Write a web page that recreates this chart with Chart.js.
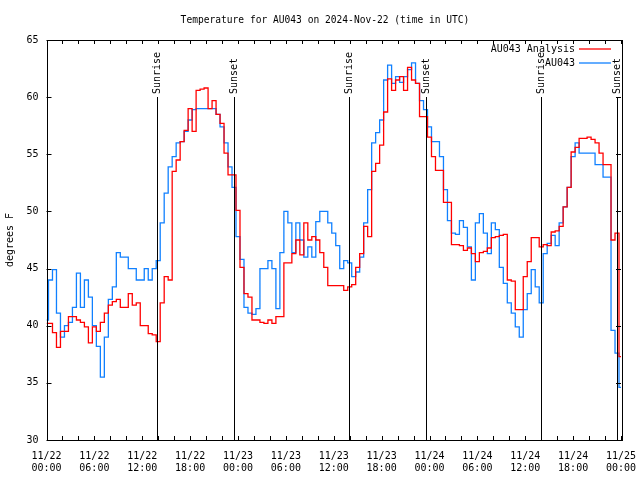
<!DOCTYPE html>
<html>
<head>
<meta charset="utf-8">
<script src="https://cdn.jsdelivr.net/npm/chart.js@4.4.1/dist/chart.umd.min.js"></script>
<style>
  body { margin: 0; background: #fff; }
  canvas { display: block; }
</style>
</head>
<body>
<canvas id="myChart" width="640" height="480"></canvas>
<script>
// hours since 11/22 00:00 UTC
let hours = [
  0, 0.5, 1, 1.5, 2, 2.5, 3, 3.5, 4, 4.5, 5, 5.5, 6, 6.5, 7, 7.5, 8, 8.5, 9, 9.5, 10, 10.5, 11, 11.5,
  12, 12.5, 13, 13.5, 14, 14.5, 15, 15.5, 16, 16.5, 17, 17.5, 18, 18.5, 19, 19.5, 20, 20.5, 21, 21.5, 22, 22.5, 23, 23.5,
  24, 24.5, 25, 25.5, 26, 26.5, 27, 27.5, 28, 28.5, 29, 29.5, 30, 30.5, 31, 31.5, 32, 32.5, 33, 33.5, 34, 34.5, 35, 35.5,
  36, 36.5, 37, 37.5, 38, 38.5, 39, 39.5, 40, 40.5, 41, 41.5, 42, 42.5, 43, 43.5, 44, 44.5, 45, 45.5, 46, 46.5, 47, 47.5,
  48, 48.5, 49, 49.5, 50, 50.5, 51, 51.5, 52, 52.5, 53, 53.5, 54, 54.5, 55, 55.5, 56, 56.5, 57, 57.5, 58, 58.5, 59, 59.5,
  60, 60.5, 61, 61.5, 62, 62.5, 63, 63.5, 64, 64.5, 65, 65.5, 66, 66.5, 67, 67.5, 68, 68.5, 69, 69.5, 70, 70.5, 71, 71.5,
  72
];

let analysis = [
  40.2, 40.2, 39.4, 38.1, 39.5, 39.5, 40.8, 40.8, 40.5, 40.3, 39.9, 38.5, 39.9, 39.5, 40.3, 41.1, 41.8, 42.1, 42.3, 41.6, 41.6, 42.8, 41.8, 42,
  40, 40, 39.3, 39.2, 38.6, 42, 44.3, 44, 53.5, 54.5, 56.1, 57.1, 59, 57, 60.6, 60.7, 60.8, 59, 59.7, 58.5, 57.7, 55.1, 53.2, 53.2,
  50.1, 45.1, 42.8, 42.5, 40.5, 40.5, 40.3, 40.2, 40.5, 40.2, 40.8, 40.8, 45.5, 45.5, 46.3, 47.5, 46.2, 49, 47.5, 47.8, 47.5, 46.4, 45.1, 43.5,
  43.5, 43.5, 43.5, 43.1, 43.4, 43.6, 45.1, 46.3, 48.7, 47.8, 53.5, 54.2, 55.8, 58.7, 61.6, 60.6, 61.5, 61.8, 60.6, 62.6, 61.5, 61.2, 58.3, 58.3,
  56.5, 54.8, 53.6, 53.6, 50.8, 50.8, 47.1, 47.1, 47, 46.6, 46.8, 46.3, 45.6, 46.4, 46.5, 46.8, 47.7, 47.8, 47.9, 48, 44, 43.9, 41.4, 41.4,
  44.3, 45.6, 47.7, 47.7, 46.9, 47.1, 47, 48.2, 48.3, 48.7, 50.4, 52.1, 55.2, 55.6, 56.4, 56.4, 56.5, 56.3, 56, 55.1, 54.1, 54.1, 47.5, 48.1,
  37.3
];

let observed = [
  40.5, 44, 44.9, 41.1, 39, 40, 40.3, 41.6, 44.6, 41.6, 44, 42.5, 40, 38.2, 35.5, 39, 42.3, 43.4, 46.4, 46, 46, 45, 45, 44,
  44, 45, 44, 45, 45.7, 49, 51.6, 53.9, 54.8, 56, 56.1, 57, 58, 58.9, 59, 59, 59, 59, 59, 58.5, 57.4, 56, 53.9, 52.1,
  47.8, 45.8, 41.6, 41.1, 41, 41.5, 45, 45, 45.7, 45, 41.5, 46.4, 50, 49, 46.4, 49, 47.5, 46, 46.9, 46, 49.1, 50, 50, 49,
  48.1, 47, 45, 45.7, 45.5, 44.3, 44.7, 46, 49, 51.9, 56, 56.9, 58, 61.5, 62.8, 61.2, 61.8, 61.3, 61.8, 62.4, 63, 61.2, 59.7, 58.9,
  57.4, 56.1, 56.1, 54.8, 51.9, 49.2, 48.1, 48, 49.2, 48.6, 46.9, 44, 49, 49.8, 48.1, 46.3, 49, 48.4, 45.1, 43.7, 42, 41.1, 39.9, 39,
  41.4, 42.8, 44.9, 43.4, 42, 46.3, 47.2, 47.9, 47, 49, 50.4, 52.1, 54.8, 56, 55.1, 55.1, 55.1, 55.1, 54.1, 54.1, 53, 53, 39.6, 37.6,
  34.6
];

let xTickLabels = [
  ['11/22', '00:00'], ['11/22', '06:00'], ['11/22', '12:00'], ['11/22', '18:00'],
  ['11/23', '00:00'], ['11/23', '06:00'], ['11/23', '12:00'], ['11/23', '18:00'],
  ['11/24', '00:00'], ['11/24', '06:00'], ['11/24', '12:00'], ['11/24', '18:00'],
  ['11/25', '00:00']
];

let sunTimes = [13.88, 23.53, 37.94, 47.59, 61.97, 71.53];
let sunLabels = ['Sunrise', 'Sunset', 'Sunrise', 'Sunset', 'Sunrise', 'Sunset'];

let chartTitle = 'Temperature for AU043 on 2024-Nov-22 (time in UTC)';

const FONT = "'DejaVu Sans Mono', monospace";

function pts(vals) {
  return hours.map((h, i) => ({ x: h, y: vals[i] }));
}

// title, frame, inward tick marks, sun lines and the legend box
const extras = {
  id: 'extras',
  afterDatasetsDraw(chart) {
    const { ctx, chartArea: a, scales } = chart;
    const x = scales.x, y = scales.y;
    ctx.save();
    ctx.strokeStyle = '#000';
    ctx.fillStyle = '#000';
    ctx.lineWidth = 1;

    // title
    ctx.font = '9.6px ' + FONT;
    ctx.textAlign = 'center';
    ctx.textBaseline = 'middle';
    ctx.fillText(chartTitle, 325, 20);

    // sunrise / sunset
    ctx.font = '10px ' + FONT;
    sunTimes.forEach((t, i) => {
      const px = Math.round(x.getPixelForValue(t)) + 0.5;
      ctx.beginPath();
      ctx.moveTo(px, a.top + 57);
      ctx.lineTo(px, a.bottom);
      ctx.stroke();
      ctx.save();
      ctx.translate(px, a.top + 54);
      ctx.rotate(-Math.PI / 2);
      ctx.textAlign = 'left';
      ctx.textBaseline = 'middle';
      ctx.fillText(sunLabels[i], 0, 0);
      ctx.restore();
    });

    // frame
    ctx.strokeRect(Math.round(a.left) + 0.5, Math.round(a.top) + 0.5,
      Math.round(a.right - a.left), Math.round(a.bottom - a.top));

    // ticks
    ctx.beginPath();
    for (let h = 0; h <= 72; h += 2) {
      const px = Math.round(x.getPixelForValue(h)) + 0.5;
      ctx.moveTo(px, a.top); ctx.lineTo(px, a.top + 4);
      ctx.moveTo(px, a.bottom); ctx.lineTo(px, a.bottom - 4);
    }
    for (let v = 30; v <= 65; v += 5) {
      const py = Math.round(y.getPixelForValue(v)) + 0.5;
      ctx.moveTo(a.left, py); ctx.lineTo(a.left + 5, py);
      ctx.moveTo(a.right, py); ctx.lineTo(a.right - 5, py);
    }
    ctx.stroke();

    // legend
    ctx.textAlign = 'right';
    ctx.textBaseline = 'middle';
    chart.data.datasets.forEach((ds, i) => {
      const ly = a.top + 9 + i * 14;
      ctx.fillStyle = '#000';
      ctx.fillText(ds.label, a.right - 46, ly);
      ctx.strokeStyle = ds.borderColor;
      ctx.lineWidth = 1.3;
      ctx.beginPath();
      ctx.moveTo(a.right - 42, ly);
      ctx.lineTo(a.right - 10, ly);
      ctx.stroke();
    });
    ctx.restore();
  }
};

let ctx = document.getElementById('myChart');
let myChart = new Chart(ctx, {
  type: 'line',
  data: {
    datasets: [{
      label: 'AU043 Analysis',
      data: pts(analysis),
      borderColor: 'rgb(255, 0, 0)',
      borderWidth: 1.3,
      pointRadius: 0,
      stepped: 'middle',
      fill: false
    }, {
      label: 'AU043',
      data: pts(observed),
      borderColor: 'rgb(16, 128, 255)',
      borderWidth: 1.3,
      pointRadius: 0,
      stepped: 'middle',
      fill: false
    }]
  },
  options: {
    responsive: false,
    animation: false,
    devicePixelRatio: 1,
    layout: { padding: { left: 0, right: 19, top: 40, bottom: 0 } },
    plugins: {
      legend: { display: false },
      tooltip: { enabled: false },
      title: { display: false }
    },
    scales: {
      x: {
        type: 'linear',
        min: 0,
        max: 72,
        grid: { display: false, drawTicks: false },
        border: { display: false },
        ticks: {
          stepSize: 6,
          padding: 10,
          color: '#000',
          maxRotation: 0,
          font: { family: FONT, size: 10 },
          callback: (v) => xTickLabels[v / 6]
        },
        afterFit: (s) => { s.height = 40; s.paddingLeft = 0; s.paddingRight = 0; }
      },
      y: {
        min: 30,
        max: 65,
        grid: { display: false, drawTicks: false },
        border: { display: false },
        ticks: {
          stepSize: 5,
          padding: 8,
          color: '#000',
          font: { family: FONT, size: 10 }
        },
        title: {
          display: true,
          text: 'degrees F',
          color: '#000',
          font: { family: FONT, size: 10 },
          padding: { top: 4, bottom: 0 }
        },
        afterFit: (s) => { s.width = 46.5; s.paddingTop = 0; s.paddingBottom = 0; }
      }
    }
  },
  plugins: [extras]
});
</script>
</body>
</html>
